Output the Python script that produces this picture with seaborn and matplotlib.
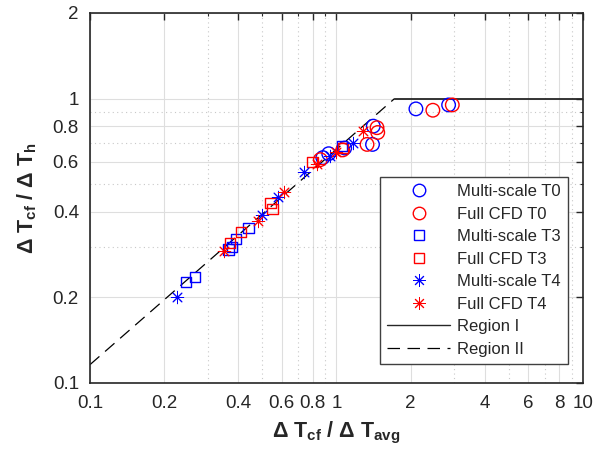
import matplotlib as mpl
import matplotlib.pyplot as plt
import seaborn as sns
from matplotlib.lines import Line2D
from matplotlib.ticker import FixedLocator, NullFormatter

# --- data ---
ms_t0_x = [0.88, 0.93, 1.08, 1.40, 1.41, 2.10, 2.85]
ms_t0_y = [0.62, 0.64, 0.67, 0.69, 0.80, 0.92, 0.95]
cfd_t0_x = [0.86, 1.06, 1.33, 1.46, 1.47, 2.46, 2.95]
cfd_t0_y = [0.61, 0.66, 0.69, 0.79, 0.76, 0.91, 0.95]

ms_t3_x = [0.245, 0.267, 0.365, 0.377, 0.39, 0.44, 1.05]
ms_t3_y = [0.227, 0.236, 0.295, 0.30, 0.32, 0.35, 0.68]
cfd_t3_x = [0.37, 0.41, 0.54, 0.55, 0.80, 1.06]
cfd_t3_y = [0.31, 0.34, 0.43, 0.41, 0.60, 0.67]

ms_t4_x = [0.225, 0.50, 0.58, 0.74, 0.94, 1.17]
ms_t4_y = [0.20, 0.39, 0.45, 0.55, 0.63, 0.70]
cfd_t4_x = [0.35, 0.48, 0.61, 0.83, 1.00, 1.28]
cfd_t4_y = [0.29, 0.37, 0.47, 0.59, 0.65, 0.77]

region1_x = [1.72, 10.0]
region1_y = [1.0, 1.0]
region2_x = [0.1, 1.72]
region2_y = [0.116, 1.0]

xticks = [0.1, 0.2, 0.4, 0.6, 0.8, 1, 2, 4, 6, 8, 10]
xtick_labels = ["0.1", "0.2", "0.4", "0.6", "0.8", "1", "2", "4", "6", "8", "10"]
xminor = [0.3, 0.5, 0.7, 0.9, 3, 5, 7, 9]
yticks = [0.1, 0.2, 0.4, 0.6, 0.8, 1, 2]
ytick_labels = ["0.1", "0.2", "0.4", "0.6", "0.8", "1", "2"]
yminor = [0.3, 0.5, 0.7, 0.9]

sns.set_theme(style="white")
plt.rcParams["font.family"] = ["Liberation Sans", "DejaVu Sans"]
plt.rcParams["mathtext.fontset"] = "custom"
plt.rcParams["mathtext.rm"] = "Liberation Sans:bold"
plt.rcParams["mathtext.bf"] = "Liberation Sans:bold"
plt.rcParams["mathtext.default"] = "bf"

fig = plt.figure(figsize=(5.98, 4.57), dpi=100)
ax = fig.add_axes([0.1505, 0.162, 0.8244, 0.8096])
ax.set_xscale("log")
ax.set_yscale("log")

# --- lines ---
sns.lineplot(x=region1_x, y=region1_y, ax=ax, color="#262626", lw=1.3, zorder=2)
sns.lineplot(x=region2_x, y=region2_y, ax=ax, color="black", lw=0.9,
             dashes=False, zorder=2).lines[-1].set_dashes([10, 6])

# --- markers ---
series = [
    (ms_t0_x, ms_t0_y, "o", "blue", 95, "Multi-scale T0"),
    (cfd_t0_x, cfd_t0_y, "o", "red", 95, "Full CFD T0"),
    (ms_t3_x, ms_t3_y, "s", "blue", 55, "Multi-scale T3"),
    (cfd_t3_x, cfd_t3_y, "s", "red", 55, "Full CFD T3"),
    (ms_t4_x, ms_t4_y, (8, 2, 0), "blue", 80, "Multi-scale T4"),
    (cfd_t4_x, cfd_t4_y, (8, 2, 0), "red", 80, "Full CFD T4"),
]
for xs, ys, mk, col, size, lab in series:
    if mk in ("o", "s"):
        sns.scatterplot(x=xs, y=ys, ax=ax, marker=mk, s=size, facecolors="none",
                        edgecolor=col, linewidth=1.0, zorder=3)
    else:
        sns.scatterplot(x=xs, y=ys, ax=ax, marker=mk, s=size, color=col,
                        edgecolor=col, linewidth=0.7, zorder=3)

# --- axes ---
ax.set_xlim(0.1, 10)
ax.set_ylim(0.1, 2)
ax.xaxis.set_major_locator(FixedLocator(xticks))
ax.set_xticklabels(xtick_labels)
ax.xaxis.set_minor_locator(FixedLocator(xminor))
ax.xaxis.set_minor_formatter(NullFormatter())
ax.yaxis.set_major_locator(FixedLocator(yticks))
ax.set_yticklabels(ytick_labels)
ax.yaxis.set_minor_locator(FixedLocator(yminor))
ax.yaxis.set_minor_formatter(NullFormatter())

ax.grid(True, which="major", color="#dedede", lw=0.8, ls="-")
ax.grid(True, which="minor", color="#c8c8c8", lw=0.8, ls=(0, (1, 3)))
ax.set_axisbelow(True)

for sp in ax.spines.values():
    sp.set_color("#262626")
    sp.set_linewidth(1.2)
ax.tick_params(which="both", direction="in", top=True, right=True,
               colors="#262626", labelsize=13.5, labelcolor="#262626")
ax.tick_params(which="major", length=5, width=1.0)
ax.tick_params(axis="x", which="major", pad=9)
ax.tick_params(axis="y", which="major", pad=8)
ax.tick_params(which="minor", length=2.5, width=0.8)

ax.set_xlabel("Δ T$_{cf}$ / Δ T$_{avg}$", fontsize=15.5, fontweight="bold",
              color="#262626", labelpad=5)
ax.set_ylabel("Δ T$_{cf}$ / Δ T$_{h}$", fontsize=15.5, fontweight="bold",
              color="#262626", labelpad=10)

# --- legend ---
handles = [Line2D([], [], ls="none", marker=mk,
                  markersize=9 if mk == "o" else 7 if mk == "s" else 9,
                  markerfacecolor="none", markeredgecolor=col,
                  markeredgewidth=1.0 if mk in ("o", "s") else 0.7)
           for _, _, mk, col, _, _ in series]
labels = [s[5] for s in series]
handles.append(Line2D([], [], color="#262626", lw=1.0))
handles.append(Line2D([], [], color="black", lw=0.9, dashes=[10, 6]))
labels += ["Region I", "Region II"]
leg = ax.legend(handles, labels, loc="lower right", bbox_to_anchor=(0.970, 0.051),
                borderaxespad=0, fancybox=False, framealpha=1, edgecolor="#404040",
                fontsize=12, handlelength=3.8, handletextpad=0.4, labelspacing=0.45,
                borderpad=0.45)
leg.get_frame().set_linewidth(1.0)

fig.savefig("out.png", dpi=100)
